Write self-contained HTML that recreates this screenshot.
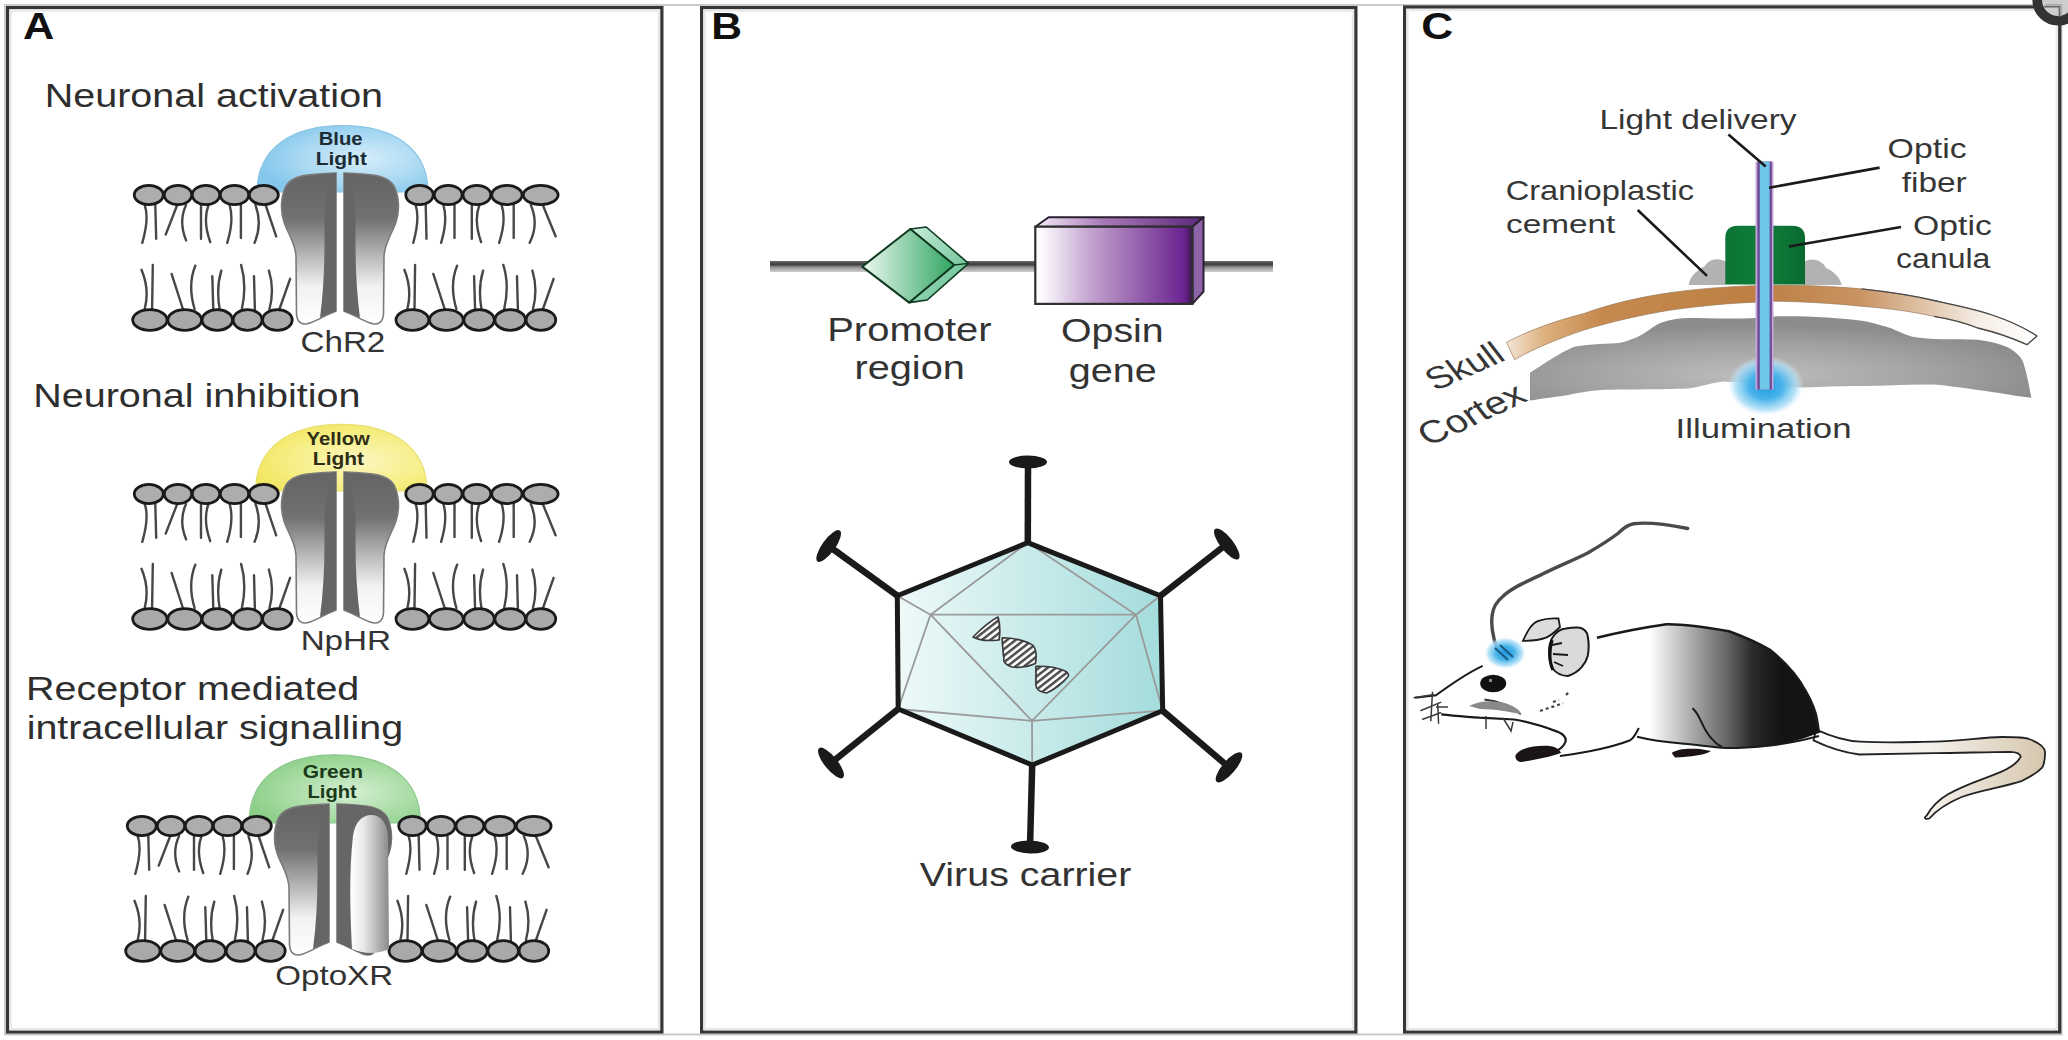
<!DOCTYPE html><html><head><meta charset="utf-8"><style>html,body{margin:0;padding:0;background:#fff;width:2068px;height:1040px;overflow:hidden}svg{display:block}text{font-family:"Liberation Sans",sans-serif}</style></head><body>
<svg width="2068" height="1040" viewBox="0 0 2068 1040">
<defs>
<linearGradient id="chg" x1="0" y1="173" x2="0" y2="325" gradientUnits="userSpaceOnUse">
 <stop offset="0" stop-color="#646464"/><stop offset="0.3" stop-color="#717171"/><stop offset="0.75" stop-color="#f2f2f2"/><stop offset="1" stop-color="#ffffff"/></linearGradient>
<linearGradient id="lobe" x1="0" y1="0" x2="1" y2="0">
 <stop offset="0" stop-color="#ffffff"/><stop offset="0.35" stop-color="#e8e8e8"/><stop offset="1" stop-color="#8a8a8a"/></linearGradient>
<radialGradient id="blueg" cx="0.62" cy="0.5" r="0.62">
 <stop offset="0" stop-color="#d6eefa"/><stop offset="0.6" stop-color="#a8d8f2"/><stop offset="1" stop-color="#84c6ec"/></radialGradient>
<radialGradient id="yelg" cx="0.6" cy="0.55" r="0.62">
 <stop offset="0" stop-color="#fbf6c0"/><stop offset="0.6" stop-color="#f7ef8a"/><stop offset="1" stop-color="#f2e762"/></radialGradient>
<radialGradient id="greg" cx="0.6" cy="0.55" r="0.62">
 <stop offset="0" stop-color="#d4eed2"/><stop offset="0.6" stop-color="#a8dca4"/><stop offset="1" stop-color="#8ccf88"/></radialGradient>
<linearGradient id="dna" x1="0" y1="0" x2="0" y2="1">
 <stop offset="0" stop-color="#6a6a6a"/><stop offset="0.3" stop-color="#3c3c3c"/><stop offset="0.6" stop-color="#999"/><stop offset="1" stop-color="#cfcfcf"/></linearGradient>
<linearGradient id="diaF" x1="0" y1="0" x2="1" y2="0">
 <stop offset="0" stop-color="#eef9f2"/><stop offset="1" stop-color="#2fa461"/></linearGradient>
<linearGradient id="diaS" x1="0" y1="0" x2="1" y2="1">
 <stop offset="0" stop-color="#c8eedb"/><stop offset="1" stop-color="#58b887"/></linearGradient>
<linearGradient id="boxF" x1="0" y1="0" x2="1" y2="0">
 <stop offset="0" stop-color="#ffffff"/><stop offset="0.05" stop-color="#fbf8fc"/><stop offset="0.35" stop-color="#c3a3cf"/><stop offset="0.7" stop-color="#8f58a8"/><stop offset="0.95" stop-color="#6a2290"/><stop offset="1" stop-color="#3a1848"/></linearGradient>
<linearGradient id="boxT" x1="0" y1="0" x2="1" y2="0">
 <stop offset="0" stop-color="#f6eef8"/><stop offset="0.4" stop-color="#a87ab8"/><stop offset="1" stop-color="#5a2878"/></linearGradient>
<linearGradient id="vir" x1="0" y1="0" x2="1" y2="0">
 <stop offset="0" stop-color="#eef9f9"/><stop offset="1" stop-color="#a4dcdc"/></linearGradient>
<pattern id="hatch" width="5" height="5.2" patternUnits="userSpaceOnUse" patternTransform="rotate(-38)">
 <rect width="5" height="5.2" fill="#fafafa"/><rect width="5" height="2.4" fill="#4a4a4a"/></pattern>
<linearGradient id="skull" x1="1506" y1="0" x2="2037" y2="0" gradientUnits="userSpaceOnUse">
 <stop offset="0" stop-color="#f4e6d8"/><stop offset="0.073" stop-color="#ddb07e"/><stop offset="0.177" stop-color="#c68a4e"/><stop offset="0.478" stop-color="#bd7f44"/><stop offset="0.667" stop-color="#c99462"/><stop offset="0.806" stop-color="#e3cbb3"/><stop offset="0.893" stop-color="#f6eee6"/><stop offset="1" stop-color="#ffffff"/></linearGradient>
<radialGradient id="cortex" cx="0.45" cy="0.7" r="0.6">
 <stop offset="0" stop-color="#bebebe"/><stop offset="0.6" stop-color="#a2a2a2"/><stop offset="1" stop-color="#8c8c8c"/></radialGradient>
<radialGradient id="glow" cx="0.5" cy="0.5" r="0.5">
 <stop offset="0" stop-color="#1e9ae0"/><stop offset="0.45" stop-color="#4ab4ea"/><stop offset="0.8" stop-color="#a8dcf6" stop-opacity="0.8"/><stop offset="1" stop-color="#dff2fc" stop-opacity="0"/></radialGradient>
<linearGradient id="body" x1="1650" y1="0" x2="1780" y2="0" gradientUnits="userSpaceOnUse">
 <stop offset="0" stop-color="#ffffff"/><stop offset="0.12" stop-color="#dedede"/><stop offset="0.39" stop-color="#999"/><stop offset="0.59" stop-color="#666"/><stop offset="0.79" stop-color="#2a2a2a"/><stop offset="1" stop-color="#141414"/></linearGradient>
<linearGradient id="tail" x1="1815" y1="0" x2="2045" y2="0" gradientUnits="userSpaceOnUse">
 <stop offset="0" stop-color="#ffffff"/><stop offset="0.5" stop-color="#f4f0ea"/><stop offset="1" stop-color="#d6c6ae"/></linearGradient>
<linearGradient id="canula" x1="0" y1="0" x2="1" y2="0">
 <stop offset="0" stop-color="#0c7434"/><stop offset="0.5" stop-color="#0f7e3c"/><stop offset="1" stop-color="#0a6a30"/></linearGradient>
</defs>
<rect width="2068" height="1040" fill="#fff"/>
<rect x="5" y="5" width="2056.5" height="1029.5" fill="none" stroke="#c6c6c6" stroke-width="1.8"/>
<rect x="7.6" y="7.6" width="654.3" height="1024.4" fill="#fff" stroke="#363636" stroke-width="3.2"/>
<rect x="10.6" y="10.6" width="648.3" height="1018.6" fill="none" stroke="#e8e8e8" stroke-width="2.2"/>
<rect x="701.6" y="7.6" width="654.3" height="1024.4" fill="#fff" stroke="#363636" stroke-width="3.2"/>
<rect x="704.6" y="10.6" width="648.3" height="1018.6" fill="none" stroke="#e8e8e8" stroke-width="2.2"/>
<rect x="1404.6" y="7.0" width="655.1000000000001" height="1025.0" fill="#fff" stroke="#363636" stroke-width="3.2"/>
<rect x="1407.6" y="10.0" width="649.1000000000001" height="1019.1999999999999" fill="none" stroke="#e8e8e8" stroke-width="2.2"/>
<circle cx="2058" cy="0" r="20.8" fill="#cdcdcd" stroke="#333" stroke-width="9.6"/><path d="M2044,6.6 L2059.5,6.6 L2059.5,17" fill="none" stroke="#6a6a6a" stroke-width="1.8"/><path d="M2046,4.6 L2061.5,4.6 L2061.5,16" fill="none" stroke="#aaa" stroke-width="1.2"/>
<text transform="translate(22.92,39.00) scale(1.1698,1)" font-size="37.00" font-weight="bold" fill="#111" >A</text>
<text transform="translate(44.64,107.20) scale(1.1841,1)" font-size="33.40" font-weight="normal" fill="#2e2e2e" >Neuronal activation</text>
<text transform="translate(33.14,406.80) scale(1.1983,1)" font-size="33.00" font-weight="normal" fill="#2e2e2e" >Neuronal inhibition</text>
<text transform="translate(26.05,700.30) scale(1.1950,1)" font-size="33.00" font-weight="normal" fill="#2e2e2e" >Receptor mediated</text>
<text transform="translate(26.64,738.70) scale(1.1938,1)" font-size="33.00" font-weight="normal" fill="#2e2e2e" >intracellular signalling</text>
<g transform="translate(0,0)">
<path d="M257,192 C257,147.6 292.5,125.6 342.5,125.6 C392.5,125.6 428,147.6 428,192 Z" fill="url(#blueg)" stroke="#8cc6e6" stroke-width="1.2"/>
<path d="M144.7,205.0 Q149.4,218.1 142.3,242.8 M155.3,205.0 L156.2,238.7 M177.2,205.0 L165.7,234.6 M186.1,205.0 Q178.3,221.3 186.1,240.4 M201.0,205.0 L201.0,238.7 M208.5,205.0 Q202.6,220.5 210.2,242.0 M229.6,205.0 Q234.2,220.1 227.2,242.8 M240.9,205.0 L240.9,237.9 M255.5,205.0 Q262.5,224.1 254.6,242.8 M265.6,205.0 L276.2,236.3 M415.6,205.0 Q420.1,218.1 413.3,242.8 M425.7,205.0 L426.5,238.7 M443.4,205.0 Q448.0,220.1 441.1,242.8 M454.5,205.0 L454.5,237.9 M471.8,205.0 L471.8,238.7 M479.4,205.0 Q473.5,220.5 481.1,242.0 M501.6,205.0 Q506.6,220.1 499.1,242.8 M513.7,205.0 L513.7,237.9 M530.8,205.0 Q539.1,224.1 529.7,242.8 M542.8,205.0 L555.6,236.3 M144.7,309.0 Q149.8,289.4 141.5,269.8 M152.1,309.0 L152.8,264.9 M182.9,309.0 L171.6,273.9 M194.6,309.0 Q187.4,284.9 195.3,265.7 M213.3,310.0 L212.3,276.3 M219.8,310.0 Q215.9,288.5 221.3,270.6 M241.9,309.0 Q247.1,285.3 241.1,264.9 M254.9,310.0 L254.0,276.3 M269.5,309.0 Q274.7,289.0 268.9,270.6 M279.5,309.0 L290.1,278.8 M407.4,309.0 Q412.3,289.4 404.4,269.8 M414.5,309.0 L415.1,264.9 M444.7,309.0 L433.3,273.9 M456.4,309.0 Q449.2,284.9 457.1,265.7 M475.1,310.0 L474.1,276.3 M481.6,310.0 Q477.7,288.5 483.1,270.6 M504.2,309.0 Q509.7,285.3 503.3,264.9 M517.9,310.0 L517.0,276.3 M533.0,309.0 Q538.1,289.0 532.4,270.6 M543.0,309.0 L553.6,278.8" fill="none" stroke="#474747" stroke-width="2.4" stroke-linecap="round"/>
<ellipse cx="148.8" cy="195" rx="14.5" ry="9.6" fill="#adadad" stroke="#1a1a1a" stroke-width="2.8"/>
<ellipse cx="178.0" cy="195" rx="13.7" ry="9.6" fill="#adadad" stroke="#1a1a1a" stroke-width="2.8"/>
<ellipse cx="206.0" cy="195" rx="13.7" ry="9.6" fill="#adadad" stroke="#1a1a1a" stroke-width="2.8"/>
<ellipse cx="234.5" cy="195" rx="14.2" ry="9.6" fill="#adadad" stroke="#1a1a1a" stroke-width="2.8"/>
<ellipse cx="263.8" cy="195" rx="14.5" ry="9.6" fill="#adadad" stroke="#1a1a1a" stroke-width="2.8"/>
<ellipse cx="419.5" cy="195" rx="13.7" ry="9.6" fill="#adadad" stroke="#1a1a1a" stroke-width="2.8"/>
<ellipse cx="448.2" cy="195" rx="13.9" ry="9.6" fill="#adadad" stroke="#1a1a1a" stroke-width="2.8"/>
<ellipse cx="476.9" cy="195" rx="13.9" ry="9.6" fill="#adadad" stroke="#1a1a1a" stroke-width="2.8"/>
<ellipse cx="506.9" cy="195" rx="15.2" ry="9.6" fill="#adadad" stroke="#1a1a1a" stroke-width="2.8"/>
<ellipse cx="540.7" cy="195" rx="17.4" ry="9.6" fill="#adadad" stroke="#1a1a1a" stroke-width="2.8"/>
<ellipse cx="149.9" cy="320" rx="17.2" ry="10.3" fill="#a9a9a9" stroke="#1a1a1a" stroke-width="2.8"/>
<ellipse cx="184.7" cy="320" rx="16.9" ry="10.3" fill="#a9a9a9" stroke="#1a1a1a" stroke-width="2.8"/>
<ellipse cx="217.3" cy="320" rx="15.2" ry="10.3" fill="#a9a9a9" stroke="#1a1a1a" stroke-width="2.8"/>
<ellipse cx="247.6" cy="320" rx="14.4" ry="10.3" fill="#a9a9a9" stroke="#1a1a1a" stroke-width="2.8"/>
<ellipse cx="277.4" cy="320" rx="14.8" ry="10.3" fill="#a9a9a9" stroke="#1a1a1a" stroke-width="2.8"/>
<ellipse cx="412.4" cy="320" rx="16.4" ry="10.3" fill="#a9a9a9" stroke="#1a1a1a" stroke-width="2.8"/>
<ellipse cx="446.4" cy="320" rx="16.9" ry="10.3" fill="#a9a9a9" stroke="#1a1a1a" stroke-width="2.8"/>
<ellipse cx="479.1" cy="320" rx="15.2" ry="10.3" fill="#a9a9a9" stroke="#1a1a1a" stroke-width="2.8"/>
<ellipse cx="510.2" cy="320" rx="15.3" ry="10.3" fill="#a9a9a9" stroke="#1a1a1a" stroke-width="2.8"/>
<ellipse cx="540.9" cy="320" rx="14.8" ry="10.3" fill="#a9a9a9" stroke="#1a1a1a" stroke-width="2.8"/>
<path d="M336,173 L336,311 C326,315 318,320 310,323 C302,326 297,322 296.5,314 L296,256 C295,242 288,234 284,222 C280,210 281,196 286,186 C292,176 305,174 336,173 Z" fill="url(#chg)" stroke="#7a7a7a" stroke-width="1.6"/>
<path d="M336,173 L336,311 C330,313 324,316 320,318 C323,295 324.5,270 324.5,245 L324.5,215 C326,195 329,180 333,173 Z" fill="#666"/>
<g transform="translate(680,0) scale(-1,1)"><path d="M336,173 L336,311 C326,315 318,320 310,323 C302,326 297,322 296.5,314 L296,256 C295,242 288,234 284,222 C280,210 281,196 286,186 C292,176 305,174 336,173 Z" fill="url(#chg)" stroke="#7a7a7a" stroke-width="1.6"/>
<path d="M336,173 L336,311 C330,313 324,316 320,318 C323,295 324.5,270 324.5,245 L324.5,215 C326,195 329,180 333,173 Z" fill="#666"/></g>
</g>
<g transform="translate(0,299)">
<path d="M255.6,192 C255.6,147.4 291.3,125.4 341.3,125.4 C391.3,125.4 427,147.4 427,192 Z" fill="url(#yelg)" stroke="#e8e070" stroke-width="1.2"/>
<path d="M144.7,205.0 Q149.4,218.1 142.3,242.8 M155.3,205.0 L156.2,238.7 M177.2,205.0 L165.7,234.6 M186.1,205.0 Q178.3,221.3 186.1,240.4 M201.0,205.0 L201.0,238.7 M208.5,205.0 Q202.6,220.5 210.2,242.0 M229.6,205.0 Q234.2,220.1 227.2,242.8 M240.9,205.0 L240.9,237.9 M255.5,205.0 Q262.5,224.1 254.6,242.8 M265.6,205.0 L276.2,236.3 M415.6,205.0 Q420.1,218.1 413.3,242.8 M425.7,205.0 L426.5,238.7 M443.4,205.0 Q448.0,220.1 441.1,242.8 M454.5,205.0 L454.5,237.9 M471.8,205.0 L471.8,238.7 M479.4,205.0 Q473.5,220.5 481.1,242.0 M501.6,205.0 Q506.6,220.1 499.1,242.8 M513.7,205.0 L513.7,237.9 M530.8,205.0 Q539.1,224.1 529.7,242.8 M542.8,205.0 L555.6,236.3 M144.7,309.0 Q149.8,289.4 141.5,269.8 M152.1,309.0 L152.8,264.9 M182.9,309.0 L171.6,273.9 M194.6,309.0 Q187.4,284.9 195.3,265.7 M213.3,310.0 L212.3,276.3 M219.8,310.0 Q215.9,288.5 221.3,270.6 M241.9,309.0 Q247.1,285.3 241.1,264.9 M254.9,310.0 L254.0,276.3 M269.5,309.0 Q274.7,289.0 268.9,270.6 M279.5,309.0 L290.1,278.8 M407.4,309.0 Q412.3,289.4 404.4,269.8 M414.5,309.0 L415.1,264.9 M444.7,309.0 L433.3,273.9 M456.4,309.0 Q449.2,284.9 457.1,265.7 M475.1,310.0 L474.1,276.3 M481.6,310.0 Q477.7,288.5 483.1,270.6 M504.2,309.0 Q509.7,285.3 503.3,264.9 M517.9,310.0 L517.0,276.3 M533.0,309.0 Q538.1,289.0 532.4,270.6 M543.0,309.0 L553.6,278.8" fill="none" stroke="#474747" stroke-width="2.4" stroke-linecap="round"/>
<ellipse cx="148.8" cy="195" rx="14.5" ry="9.6" fill="#adadad" stroke="#1a1a1a" stroke-width="2.8"/>
<ellipse cx="178.0" cy="195" rx="13.7" ry="9.6" fill="#adadad" stroke="#1a1a1a" stroke-width="2.8"/>
<ellipse cx="206.0" cy="195" rx="13.7" ry="9.6" fill="#adadad" stroke="#1a1a1a" stroke-width="2.8"/>
<ellipse cx="234.5" cy="195" rx="14.2" ry="9.6" fill="#adadad" stroke="#1a1a1a" stroke-width="2.8"/>
<ellipse cx="263.8" cy="195" rx="14.5" ry="9.6" fill="#adadad" stroke="#1a1a1a" stroke-width="2.8"/>
<ellipse cx="419.5" cy="195" rx="13.7" ry="9.6" fill="#adadad" stroke="#1a1a1a" stroke-width="2.8"/>
<ellipse cx="448.2" cy="195" rx="13.9" ry="9.6" fill="#adadad" stroke="#1a1a1a" stroke-width="2.8"/>
<ellipse cx="476.9" cy="195" rx="13.9" ry="9.6" fill="#adadad" stroke="#1a1a1a" stroke-width="2.8"/>
<ellipse cx="506.9" cy="195" rx="15.2" ry="9.6" fill="#adadad" stroke="#1a1a1a" stroke-width="2.8"/>
<ellipse cx="540.7" cy="195" rx="17.4" ry="9.6" fill="#adadad" stroke="#1a1a1a" stroke-width="2.8"/>
<ellipse cx="149.9" cy="320" rx="17.2" ry="10.3" fill="#a9a9a9" stroke="#1a1a1a" stroke-width="2.8"/>
<ellipse cx="184.7" cy="320" rx="16.9" ry="10.3" fill="#a9a9a9" stroke="#1a1a1a" stroke-width="2.8"/>
<ellipse cx="217.3" cy="320" rx="15.2" ry="10.3" fill="#a9a9a9" stroke="#1a1a1a" stroke-width="2.8"/>
<ellipse cx="247.6" cy="320" rx="14.4" ry="10.3" fill="#a9a9a9" stroke="#1a1a1a" stroke-width="2.8"/>
<ellipse cx="277.4" cy="320" rx="14.8" ry="10.3" fill="#a9a9a9" stroke="#1a1a1a" stroke-width="2.8"/>
<ellipse cx="412.4" cy="320" rx="16.4" ry="10.3" fill="#a9a9a9" stroke="#1a1a1a" stroke-width="2.8"/>
<ellipse cx="446.4" cy="320" rx="16.9" ry="10.3" fill="#a9a9a9" stroke="#1a1a1a" stroke-width="2.8"/>
<ellipse cx="479.1" cy="320" rx="15.2" ry="10.3" fill="#a9a9a9" stroke="#1a1a1a" stroke-width="2.8"/>
<ellipse cx="510.2" cy="320" rx="15.3" ry="10.3" fill="#a9a9a9" stroke="#1a1a1a" stroke-width="2.8"/>
<ellipse cx="540.9" cy="320" rx="14.8" ry="10.3" fill="#a9a9a9" stroke="#1a1a1a" stroke-width="2.8"/>
<path d="M336,173 L336,311 C326,315 318,320 310,323 C302,326 297,322 296.5,314 L296,256 C295,242 288,234 284,222 C280,210 281,196 286,186 C292,176 305,174 336,173 Z" fill="url(#chg)" stroke="#7a7a7a" stroke-width="1.6"/>
<path d="M336,173 L336,311 C330,313 324,316 320,318 C323,295 324.5,270 324.5,245 L324.5,215 C326,195 329,180 333,173 Z" fill="#666"/>
<g transform="translate(680,0) scale(-1,1)"><path d="M336,173 L336,311 C326,315 318,320 310,323 C302,326 297,322 296.5,314 L296,256 C295,242 288,234 284,222 C280,210 281,196 286,186 C292,176 305,174 336,173 Z" fill="url(#chg)" stroke="#7a7a7a" stroke-width="1.6"/>
<path d="M336,173 L336,311 C330,313 324,316 320,318 C323,295 324.5,270 324.5,245 L324.5,215 C326,195 329,180 333,173 Z" fill="#666"/></g>
</g>
<g transform="translate(-7,631)">
<path d="M256,192 C256,145.8 291.75,123.8 341.75,123.8 C391.75,123.8 427.5,145.8 427.5,192 Z" fill="url(#greg)" stroke="#90c890" stroke-width="1.2"/>
<path d="M144.7,205.0 Q149.4,218.1 142.3,242.8 M155.3,205.0 L156.2,238.7 M177.2,205.0 L165.7,234.6 M186.1,205.0 Q178.3,221.3 186.1,240.4 M201.0,205.0 L201.0,238.7 M208.5,205.0 Q202.6,220.5 210.2,242.0 M229.6,205.0 Q234.2,220.1 227.2,242.8 M240.9,205.0 L240.9,237.9 M255.5,205.0 Q262.5,224.1 254.6,242.8 M265.6,205.0 L276.2,236.3 M415.6,205.0 Q420.1,218.1 413.3,242.8 M425.7,205.0 L426.5,238.7 M443.4,205.0 Q448.0,220.1 441.1,242.8 M454.5,205.0 L454.5,237.9 M471.8,205.0 L471.8,238.7 M479.4,205.0 Q473.5,220.5 481.1,242.0 M501.6,205.0 Q506.6,220.1 499.1,242.8 M513.7,205.0 L513.7,237.9 M530.8,205.0 Q539.1,224.1 529.7,242.8 M542.8,205.0 L555.6,236.3 M144.7,309.0 Q149.8,289.4 141.5,269.8 M152.1,309.0 L152.8,264.9 M182.9,309.0 L171.6,273.9 M194.6,309.0 Q187.4,284.9 195.3,265.7 M213.3,310.0 L212.3,276.3 M219.8,310.0 Q215.9,288.5 221.3,270.6 M241.9,309.0 Q247.1,285.3 241.1,264.9 M254.9,310.0 L254.0,276.3 M269.5,309.0 Q274.7,289.0 268.9,270.6 M279.5,309.0 L290.1,278.8 M407.4,309.0 Q412.3,289.4 404.4,269.8 M414.5,309.0 L415.1,264.9 M444.7,309.0 L433.3,273.9 M456.4,309.0 Q449.2,284.9 457.1,265.7 M475.1,310.0 L474.1,276.3 M481.6,310.0 Q477.7,288.5 483.1,270.6 M504.2,309.0 Q509.7,285.3 503.3,264.9 M517.9,310.0 L517.0,276.3 M533.0,309.0 Q538.1,289.0 532.4,270.6 M543.0,309.0 L553.6,278.8" fill="none" stroke="#474747" stroke-width="2.4" stroke-linecap="round"/>
<ellipse cx="148.8" cy="195" rx="14.5" ry="9.6" fill="#adadad" stroke="#1a1a1a" stroke-width="2.8"/>
<ellipse cx="178.0" cy="195" rx="13.7" ry="9.6" fill="#adadad" stroke="#1a1a1a" stroke-width="2.8"/>
<ellipse cx="206.0" cy="195" rx="13.7" ry="9.6" fill="#adadad" stroke="#1a1a1a" stroke-width="2.8"/>
<ellipse cx="234.5" cy="195" rx="14.2" ry="9.6" fill="#adadad" stroke="#1a1a1a" stroke-width="2.8"/>
<ellipse cx="263.8" cy="195" rx="14.5" ry="9.6" fill="#adadad" stroke="#1a1a1a" stroke-width="2.8"/>
<ellipse cx="419.5" cy="195" rx="13.7" ry="9.6" fill="#adadad" stroke="#1a1a1a" stroke-width="2.8"/>
<ellipse cx="448.2" cy="195" rx="13.9" ry="9.6" fill="#adadad" stroke="#1a1a1a" stroke-width="2.8"/>
<ellipse cx="476.9" cy="195" rx="13.9" ry="9.6" fill="#adadad" stroke="#1a1a1a" stroke-width="2.8"/>
<ellipse cx="506.9" cy="195" rx="15.2" ry="9.6" fill="#adadad" stroke="#1a1a1a" stroke-width="2.8"/>
<ellipse cx="540.7" cy="195" rx="17.4" ry="9.6" fill="#adadad" stroke="#1a1a1a" stroke-width="2.8"/>
<ellipse cx="149.9" cy="320" rx="17.2" ry="10.3" fill="#a9a9a9" stroke="#1a1a1a" stroke-width="2.8"/>
<ellipse cx="184.7" cy="320" rx="16.9" ry="10.3" fill="#a9a9a9" stroke="#1a1a1a" stroke-width="2.8"/>
<ellipse cx="217.3" cy="320" rx="15.2" ry="10.3" fill="#a9a9a9" stroke="#1a1a1a" stroke-width="2.8"/>
<ellipse cx="247.6" cy="320" rx="14.4" ry="10.3" fill="#a9a9a9" stroke="#1a1a1a" stroke-width="2.8"/>
<ellipse cx="277.4" cy="320" rx="14.8" ry="10.3" fill="#a9a9a9" stroke="#1a1a1a" stroke-width="2.8"/>
<ellipse cx="412.4" cy="320" rx="16.4" ry="10.3" fill="#a9a9a9" stroke="#1a1a1a" stroke-width="2.8"/>
<ellipse cx="446.4" cy="320" rx="16.9" ry="10.3" fill="#a9a9a9" stroke="#1a1a1a" stroke-width="2.8"/>
<ellipse cx="479.1" cy="320" rx="15.2" ry="10.3" fill="#a9a9a9" stroke="#1a1a1a" stroke-width="2.8"/>
<ellipse cx="510.2" cy="320" rx="15.3" ry="10.3" fill="#a9a9a9" stroke="#1a1a1a" stroke-width="2.8"/>
<ellipse cx="540.9" cy="320" rx="14.8" ry="10.3" fill="#a9a9a9" stroke="#1a1a1a" stroke-width="2.8"/>
<path d="M336,173 L336,311 C326,315 318,320 310,323 C302,326 297,322 296.5,314 L296,256 C295,242 288,234 284,222 C280,210 281,196 286,186 C292,176 305,174 336,173 Z" fill="url(#chg)" stroke="#7a7a7a" stroke-width="1.6"/>
<path d="M336,173 L336,311 C330,313 324,316 320,318 C323,295 324.5,270 324.5,245 L324.5,215 C326,195 329,180 333,173 Z" fill="#666"/>
<g transform="translate(680,0) scale(-1,1)"><path d="M336,173 L336,311 C326,315 318,320 310,323 C302,326 297,322 296.5,314 L296,256 C295,242 288,234 284,222 C280,210 281,196 286,186 C292,176 305,174 336,173 Z" fill="url(#chg)" stroke="#7a7a7a" stroke-width="1.6"/>
<path d="M336,173 L336,311 C326,315 318,320 310,323 C302,326 297,322 296.5,314 L296,256 C295,242 288,234 284,222 C280,210 281,196 286,186 C292,176 305,174 336,173 Z" fill="#666"/>
</g>
<path d="M359,318 C357,280 356,240 360,205 C362,190 370,184 378,184 C388,184 394,192 395,205 L396,318 Q378,326 359,318 Z" fill="url(#lobe)"/>
</g>
<text transform="translate(318.68,145.20) scale(1.1246,1)" font-size="18.00" font-weight="bold" fill="#1c2c36" >Blue</text>
<text transform="translate(315.64,165.40) scale(1.1336,1)" font-size="18.50" font-weight="bold" fill="#1c2c36" >Light</text>
<text transform="translate(306.59,444.50) scale(1.1436,1)" font-size="17.80" font-weight="bold" fill="#2e2e14" >Yellow</text>
<text transform="translate(312.84,464.90) scale(1.1984,1)" font-size="17.50" font-weight="bold" fill="#2e2e14" >Light</text>
<text transform="translate(302.66,778.20) scale(1.1629,1)" font-size="18.00" font-weight="bold" fill="#1a3a1a" >Green</text>
<text transform="translate(307.43,797.90) scale(1.1056,1)" font-size="18.30" font-weight="bold" fill="#1a3a1a" >Light</text>
<text transform="translate(300.54,352.40) scale(1.1164,1)" font-size="29.70" font-weight="normal" fill="#333" >ChR2</text>
<text transform="translate(300.64,650.00) scale(1.1779,1)" font-size="28.20" font-weight="normal" fill="#333" >NpHR</text>
<text transform="translate(275.31,985.40) scale(1.2181,1)" font-size="27.20" font-weight="normal" fill="#333" >OptoXR</text>
<text transform="translate(711.23,39.00) scale(1.1520,1)" font-size="37.00" font-weight="bold" fill="#111" >B</text>
<rect x="770" y="261" width="503" height="11" fill="url(#dna)"/>
<path d="M910.3,229 L926.2,227 L968.5,263.4 L927.2,300 L909.2,302.6 L954.2,265 Z" fill="url(#diaS)" stroke="#0f3a20" stroke-width="1.6" stroke-linejoin="round"/>
<path d="M862.2,266.6 L910.3,229 L954.2,265 L909.2,302.6 Z" fill="url(#diaF)" stroke="#0f3a20" stroke-width="2" stroke-linejoin="round"/>
<path d="M954.2,265 L968.5,263.4" stroke="#0f3a20" stroke-width="1.4"/>
<path d="M1035.3,226.7 L1048.6,217.2 L1203.5,217.2 L1192.4,226.7 Z" fill="url(#boxT)" stroke="#2a2030" stroke-width="2" stroke-linejoin="round"/>
<path d="M1192.4,226.7 L1203.5,217.2 L1203.5,291.7 L1192.4,303.9 Z" fill="#8c62a8" stroke="#2a2030" stroke-width="2" stroke-linejoin="round"/>
<rect x="1035.3" y="226.7" width="157.1" height="77.2" fill="url(#boxF)" stroke="#2f2f2f" stroke-width="2.2"/>
<text transform="translate(827.20,340.50) scale(1.1940,1)" font-size="33.50" font-weight="normal" fill="#333" >Promoter</text>
<text transform="translate(854.42,379.20) scale(1.1861,1)" font-size="33.50" font-weight="normal" fill="#333" >region</text>
<text transform="translate(1060.93,342.30) scale(1.1855,1)" font-size="33.20" font-weight="normal" fill="#333" >Opsin</text>
<text transform="translate(1068.82,381.50) scale(1.1907,1)" font-size="33.20" font-weight="normal" fill="#333" >gene</text>
<line x1="1027.8" y1="542.6" x2="1028" y2="462" stroke="#1a1a1a" stroke-width="6.5"/>
<ellipse cx="1028" cy="462" rx="19" ry="6.5" fill="#1a1a1a" transform="rotate(0.1,1028,462)"/>
<line x1="1160.5" y1="595.7" x2="1226.8" y2="544" stroke="#1a1a1a" stroke-width="6.5"/>
<ellipse cx="1226.8" cy="544" rx="19" ry="6.5" fill="#1a1a1a" transform="rotate(52.1,1226.8,544)"/>
<line x1="1162.7" y1="710.7" x2="1229" y2="767.3" stroke="#1a1a1a" stroke-width="6.5"/>
<ellipse cx="1229" cy="767.3" rx="19" ry="6.5" fill="#1a1a1a" transform="rotate(130.5,1229,767.3)"/>
<line x1="1032.2" y1="765" x2="1030" y2="847" stroke="#1a1a1a" stroke-width="6.5"/>
<ellipse cx="1030" cy="847" rx="19" ry="6.5" fill="#1a1a1a" transform="rotate(181.5,1030,847)"/>
<line x1="898.2" y1="709" x2="831" y2="763" stroke="#1a1a1a" stroke-width="6.5"/>
<ellipse cx="831" cy="763" rx="19" ry="6.5" fill="#1a1a1a" transform="rotate(231.2,831,763)"/>
<line x1="897.3" y1="595.7" x2="828.7" y2="546" stroke="#1a1a1a" stroke-width="6.5"/>
<ellipse cx="828.7" cy="546" rx="19" ry="6.5" fill="#1a1a1a" transform="rotate(-54.1,828.7,546)"/>
<polygon points="1027.8,542.6 1160.5,595.7 1162.7,710.7 1032.2,765 898.2,709 897.3,595.7" fill="url(#vir)"/>
<path d="M930.5,614.7 L1136,614.7 L1032,720.8 Z M1027.8,542.6 L930.5,614.7 M1027.8,542.6 L1136,614.7 M1160.5,595.7 L1136,614.7 M1162.7,710.7 L1136,614.7 M1162.7,710.7 L1032,720.8 M1032.2,765 L1032,720.8 M898.2,709 L1032,720.8 M898.2,709 L930.5,614.7 M897.3,595.7 L930.5,614.7" fill="none" stroke="#9a9a9a" stroke-width="1.8"/>
<polygon points="1027.8,542.6 1160.5,595.7 1162.7,710.7 1032.2,765 898.2,709 897.3,595.7" fill="none" stroke="#1a1a1a" stroke-width="5" stroke-linejoin="round"/>
<path d="M998,617 C1000,625 1000,633 999,640 M1002.4,637.7 C1003,645 1003,652 1004,658.4 M1031.8,644.6 C1036,650 1036,657 1035.3,663.6 M1036,666.2 C1036,672 1036,679 1036,685.3" fill="none" stroke="#999" stroke-width="2.2"/>
<path d="M973,637 C982,628 990,621 998,617 C1000,625 1000,633 999,640 C990,641 980,641 973,637 Z M1002.4,637.7 C1012,638 1024,640 1031.8,644.6 C1036,647 1037,655 1035.3,663.6 C1028,667 1020,668 1012,667 C1006,665 1003,662 1004,658.4 C1003,650 1002,643 1002.4,637.7 Z M1036,666.2 C1046,666 1056,667 1063.8,670.6 C1068,672 1069,675 1068.1,676.6 C1062,684 1054,690 1046.5,693 C1040,692 1036,689 1036,685.3 C1036,678 1036,672 1036,666.2 Z" fill="url(#hatch)" stroke="#3a3a3a" stroke-width="1.6" stroke-linejoin="round"/>
<text transform="translate(919.80,886.20) scale(1.1868,1)" font-size="33.20" font-weight="normal" fill="#333" >Virus carrier</text>
<text transform="translate(1421.23,38.60) scale(1.1966,1)" font-size="37.00" font-weight="bold" fill="#111" >C</text>
<path d="M1530,372.7 C1540,367 1560,352 1575.4,346.6 C1590,344 1610,344 1619,343.1 C1632,340 1640,336 1645,332.7 C1652,328 1657,324 1662.4,322.2 C1672,319 1680,318 1688.5,317.9 C1710,318 1740,320 1774.5,316.4 C1810,316 1840,318 1861.6,320.8 C1875,323 1883,326 1890.6,328 C1898,331 1905,335 1912.4,336.8 C1930,340 1955,339 1977.7,339.7 C1995,342 2008,346 2014,351.3 C2020,356 2023,360 2024,365 C2027,375 2029,385 2031.3,397.7 C2015,396 2000,393 1992,392 C1970,389 1950,386 1934,384.6 C1910,384 1885,386 1861.6,386 C1840,386 1820,387 1803.5,387.5 C1780,386 1760,383 1723.4,381.4 C1710,383 1700,387 1688.5,388.4 C1670,389 1660,389 1653.7,389.3 C1630,389.5 1615,389.5 1601.5,390.1 C1590,391 1578,393 1566.7,395.3 C1555,397 1540,399 1530,400.6 Z" fill="url(#cortex)"/>
<path d="M1506.6,342.2 C1530,330 1555,321 1584,313.5 C1610,304 1640,297 1671.1,292.6 C1700,288.5 1730,286.5 1756.4,285.7 C1790,284.5 1830,286 1861.6,288.9 C1890,292 1915,296 1934,300.5 C1955,305 1975,309 1992,315 C2010,321 2025,328 2037,336 L2027,344.7 C2010,337 1995,332 1977.7,328 C1965,323 1950,319 1934,316.4 C1910,311 1885,308 1861.6,306.3 C1830,303 1800,301.5 1774,301.2 L1756.4,302.2 C1730,303 1700,306 1671.1,310 C1640,315 1610,322 1584,330 C1560,338 1535,348 1514.5,359.7 Z" fill="url(#skull)" stroke="#9a7a5a" stroke-width="0.7"/>
<path d="M1861.6,288.9 C1890,292 1915,296 1934,300.5 C1955,305 1975,309 1992,315 C2010,321 2025,328 2037,336 L2027,344.7 C2010,337 1995,332 1977.7,328 C1965,323 1950,319 1934,316.4" fill="none" stroke="#4a4a4a" stroke-width="1.3"/>
<path d="M1688.7,285 C1690,275 1698,270 1705,266 C1710,258 1720,258 1726,262 L1726,285 Z" fill="#b2b2b2"/>
<path d="M1804,285 L1804,262 C1812,257 1822,260 1826,268 C1835,272 1840,278 1841.8,285 Z" fill="#b2b2b2"/>
<path d="M1725.3,284.5 L1725.3,238 Q1725.3,225.7 1738,225.7 L1792,225.7 Q1805,225.7 1805,238 L1805,284.5 Z" fill="url(#canula)"/>
<ellipse cx="1765.7" cy="386" rx="38" ry="30" fill="url(#glow)"/>
<rect x="1755.5" y="161.6" width="18" height="228" fill="#c9a6dc"/>
<rect x="1757.3" y="161.6" width="14.6" height="228" fill="#6c4e98"/>
<rect x="1759.8" y="161.6" width="9.8" height="228" fill="#70c6e8"/>
<path d="M1728.4,134.5 L1765.7,166.5 M1769,187.8 L1879.6,167.6 M1789,246.5 L1901,227 M1637.7,210 L1707,275.9" stroke="#1a1a1a" stroke-width="2.6" fill="none"/>
<text transform="translate(1599.42,129.40) scale(1.1788,1)" font-size="28.40" font-weight="normal" fill="#363636" >Light delivery</text>
<text transform="translate(1887.58,157.90) scale(1.2314,1)" font-size="27.50" font-weight="normal" fill="#363636" >Optic</text>
<text transform="translate(1901.70,191.60) scale(1.1948,1)" font-size="28.00" font-weight="normal" fill="#363636" >fiber</text>
<text transform="translate(1505.67,200.00) scale(1.1446,1)" font-size="28.50" font-weight="normal" fill="#363636" >Cranioplastic</text>
<text transform="translate(1505.97,233.30) scale(1.2594,1)" font-size="26.50" font-weight="normal" fill="#363636" >cement</text>
<text transform="translate(1913.08,234.60) scale(1.2133,1)" font-size="27.80" font-weight="normal" fill="#363636" >Optic</text>
<text transform="translate(1896.12,268.30) scale(1.1629,1)" font-size="27.50" font-weight="normal" fill="#363636" >canula</text>
<text transform="translate(1675.57,437.60) scale(1.2209,1)" font-size="28.50" font-weight="normal" fill="#363636" >Illumination</text>
<text transform="matrix(0.33090,-0.14599,0.20690,0.27034,1435.51,391.26)" font-size="100" font-weight="normal" fill="#363636">Skull</text>
<text transform="matrix(0.34177,-0.15806,0.21159,0.27536,1428.29,446.79)" font-size="100" font-weight="normal" fill="#363636">Cortex</text>
<path d="M1816.2,729.6 C1830,736 1845,741 1860.6,741.7 C1890,743 1910,742 1934.6,741.7 C1960,741 1985,737 2002,737 C2015,737 2024,737 2029,739 C2040,743 2046,748 2045,753.9 C2045,760 2044,764 2042.4,767.3 C2036,774 2030,777 2022.2,780.8 C2000,788 1980,790 1961.6,797 C1945,804 1935,812 1929.3,818.5 C1924,820 1924,817 1926.6,815.8 C1932,806 1940,799 1948,794.3 C1968,783 1985,779 2002,771.4 C2012,767 2018,762 2020.8,756.6 C2020,753 2016,752 2010,751.8 C1985,752 1960,753 1934.6,753.2 C1910,753.5 1885,754 1859.2,754.5 C1840,752 1825,746 1813.5,740.4 Z" fill="url(#tail)" stroke="#222" stroke-width="1.8"/>
<path d="M1597,637.7 C1620,632 1640,628 1666.5,624.2 C1680,624 1700,626 1728.9,631.2 C1745,637 1760,644 1770.4,650.2 C1785,662 1797,675 1805,690 C1812,702 1816,712 1817.2,721.2 L1818.9,733 C1800,740 1785,744 1770.4,745.4 C1755,747 1740,748 1727,748 C1710,747 1700,745 1683.9,743.7 C1665,742 1650,740 1637,736.7 C1633,740 1630,741 1626,742 C1600,750 1585,754 1563,757.5 C1560,745 1562,738 1565.8,738.5 C1560,733 1557.2,731.6 1557.2,731.6 C1540,725 1530,722 1513.9,719.5 C1500,718 1490,718 1479.3,717.7 C1465,716 1450,715 1441.2,714.3 C1430,708 1420,700 1415.2,697.8 C1420,696 1430,696 1436,695.2 C1450,685 1465,674 1482.7,665.8 C1500,655 1515,645 1525,640 Z" fill="url(#body)" stroke="none"/>
<path d="M1597,637.7 C1620,632 1640,628 1666.5,624.2 C1680,624 1700,626 1728.9,631.2 C1745,637 1760,644 1770.4,650.2 C1785,662 1797,675 1805,690 C1812,702 1816,712 1817.2,721.2 L1818.9,733" fill="none" stroke="#1a1a1a" stroke-width="2.6"/>
<path d="M1818.9,736 C1800,741 1785,744 1770.4,745.4 C1755,747 1740,748 1727,748 C1710,747 1700,745 1683.9,743.7 C1665,742 1650,740 1637,736.7" fill="none" stroke="#1a1a1a" stroke-width="2"/>
<path d="M1638.9,728 C1636,733 1634,738 1630.2,740.2 C1610,748 1590,752 1560,756" fill="none" stroke="#1a1a1a" stroke-width="2"/>
<path d="M1692.5,708.2 C1697,712 1699,717 1701,721.2 C1704,728 1707,734 1711.6,738.5 C1715,743 1718,745 1722,747" fill="none" stroke="#1a1a1a" stroke-width="2"/>
<path d="M1482.7,665.8 C1465,674 1450,685 1436,695.2 L1415.2,697.8" fill="none" stroke="#1a1a1a" stroke-width="2"/>
<path d="M1441.2,714.3 C1455,716 1465,716.5 1479.3,717.7 C1495,718.5 1505,719 1513.9,719.5 C1530,722 1545,727 1557.2,731.6 C1563,734 1566,737 1565.8,741 C1564,746 1561,749 1556,751" fill="none" stroke="#1a1a1a" stroke-width="2.2"/>
<path d="M1413.5,697.8 L1434.2,694.4 M1432.5,691.8 L1430.8,721.2 M1437.7,703.9 L1438.6,723.8 M1420.4,710.8 L1441.2,702.1 M1422.1,719.5 L1441.2,712.5 M1436,707 L1448,707 M1486,716 L1486,729 M1503,718 L1511,731 L1513,722" stroke="#3a3a3a" stroke-width="1.5" fill="none"/>
<path d="M1484.4,699.5 C1498,701 1512,707 1520.8,714.3" stroke="#333" stroke-width="1.8" fill="none"/>
<path d="M1469,706 C1480,700 1495,700 1508,704 C1515,707 1520,710 1521,714 C1510,712 1495,709 1480,709 Z" fill="#8a8a8a"/>
<path d="M1540,711 C1548,708 1556,706 1563,703 M1553,702 L1559,700 M1566,695 L1569,692" stroke="#444" stroke-width="2.2" stroke-dasharray="3 3" fill="none"/>
<path d="M1523,640.8 C1528,630 1532,623 1538.5,620.8 C1545,618.5 1552,618 1558.5,618.5 L1560,627 C1555,632 1550,636 1546,637.7 C1540,640 1532,641 1523,640.8 Z" fill="#dcdcdc" stroke="#1a1a1a" stroke-width="1.8"/>
<path d="M1552,668 C1548,658 1548,645 1552.3,637.7 C1556,632 1560,629 1566,628.5 C1572,627.5 1576,627.5 1580,627.7 C1585,629 1587,632 1587.7,636 C1589,643 1589,650 1587.7,656 C1586,663 1580,672 1568,676 C1562,676 1556,673 1552,668 Z" fill="#dadada" stroke="#1a1a1a" stroke-width="2"/>
<path d="M1552,640 C1549,650 1549,662 1553,670" fill="none" stroke="#111" stroke-width="3.2"/>
<path d="M1552,645 L1562,643 M1553,654 L1568,655 M1554,662 L1563,666" stroke="#1a1a1a" stroke-width="1.8" fill="none"/>
<ellipse cx="1493.2" cy="683.5" rx="13" ry="8.8" fill="#111"/>
<rect x="1489" y="679" width="3" height="3" fill="#888"/>
<path d="M1515.6,755 C1520,748 1535,745 1550,746 C1556,747 1560,750 1561,753 C1550,757 1535,760 1520,762 C1516,761 1515,758 1515.6,755 Z" fill="#1a1414"/>
<path d="M1671.7,753 C1676,749 1688,748 1700,749 L1711,751 C1705,755 1690,757 1675,757.5 Z" fill="#1a1414"/>
<path d="M1687.7,528.5 C1665,524 1645,522 1633.8,523.8 C1626,525 1622,530 1618.5,533 C1608,541 1598,547 1587.7,553 C1572,561 1556,567 1541.5,574.6 C1525,582 1512,588 1503,596.2 C1496,602 1493,608 1492.3,614.6 C1491,622 1492,630 1493.8,637.7 C1495,644 1497,648 1500,651.5" fill="none" stroke="#4a4a4a" stroke-width="3.4" stroke-linecap="round"/>
<ellipse cx="1505.2" cy="653" rx="21" ry="16" fill="url(#glow)"/>
<path d="M1495,648 L1508,660 M1500,645 L1513,657" stroke="#1a5a80" stroke-width="2"/>
</svg></body></html>
